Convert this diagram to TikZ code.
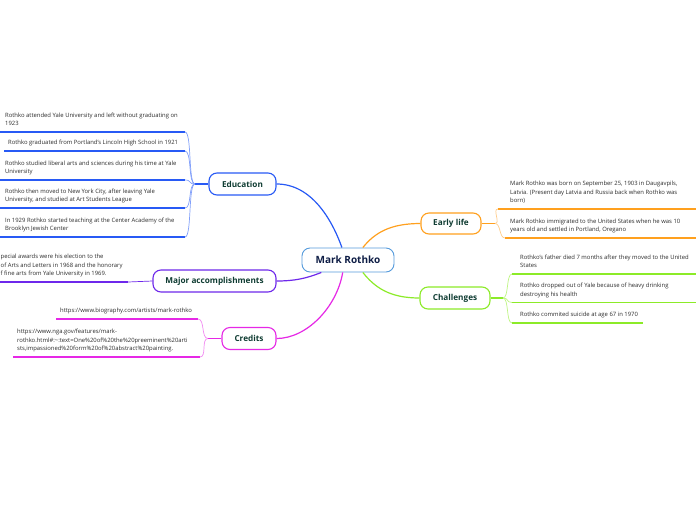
\documentclass[tikz,border=0pt]{standalone}
\usepackage{fontspec}
\setmainfont{Open Sans}
\definecolor{edu}{RGB}{40,90,245}
\definecolor{edulight}{RGB}{130,160,250}
\definecolor{purp}{RGB}{110,40,235}
\definecolor{mag}{RGB}{230,40,230}
\definecolor{maglight}{RGB}{242,140,242}
\definecolor{orng}{RGB}{255,160,30}
\definecolor{orlight}{RGB}{255,205,140}
\definecolor{lime}{RGB}{140,235,40}
\definecolor{limelight}{RGB}{190,245,130}
\definecolor{central}{RGB}{85,155,220}
\definecolor{titletxt}{RGB}{15,60,50}
\definecolor{centraltxt}{RGB}{15,30,70}
\definecolor{leaftxt}{RGB}{45,45,45}
\tikzset{
  topic/.style={draw, line width=1.1pt, rounded corners=8pt, fill=white,
    font=\fontsize{8.2}{9.5}\selectfont\bfseries, text=titletxt,
    minimum height=22pt, inner sep=0pt},
  leaf/.style={anchor=south west, inner sep=0pt, align=left,
    font=\fontsize{5.9}{8.6}\selectfont, text=leaftxt},
  under/.style={line width=1.6pt},
  sub/.style={line width=0.7pt},
  mainc/.style={line width=1.2pt},
}
\begin{document}
\begin{tikzpicture}[x=1pt,y=-1pt]
\fill[white] (0,0) rectangle (696,520);
\useasboundingbox (0,0) rectangle (696,520);

% topics
\node[topic, draw=central, line width=0.9pt, minimum width=92pt, minimum height=24pt,
  font=\fontsize{10}{12}\selectfont\bfseries, text=centraltxt] (mark) at (348,260) {Mark Rothko};
\node[topic, draw=edu, minimum width=67pt] (edu) at (242.5,184) {Education};
\node[topic, draw=purp, minimum width=123pt] (major) at (214.5,281) {Major accomplishments};
\node[topic, draw=mag, minimum width=54pt] (cred) at (249,338.5) {Credits};
\node[topic, draw=orng, minimum width=60pt, minimum height=21pt] (early) at (451,223.5) {Early life};
\node[topic, draw=lime, minimum width=70pt] (chal) at (455,298) {Challenges};

% central connectors
\draw[mainc, edu] (mark.116) .. controls +(-10,-28) and +(35,0) .. (edu.east);
\draw[mainc, orng] (mark.40) .. controls +(12,-15) and +(-30,0) .. (early.west);
\draw[mainc, lime] (mark.-40) .. controls +(12,15) and +(-30,0) .. (chal.west);
\draw[mainc, purp] (mark.205) .. controls +(-15,6) and +(18,0) .. (major.east);
\draw[mainc, mag] (mark.247) .. controls +(-6,35) and +(30,0) .. (cred.east);

% Education
\coordinate (eb) at (195,184);
\draw[mainc, edu] (edu.west) -- (eb);
\coordinate (e1a) at (0,132);   \coordinate (e1b) at (185,132);
\coordinate (e2a) at (4,151);   \coordinate (e2b) at (185,151);
\coordinate (e3a) at (0,180);   \coordinate (e3b) at (185,180);
\coordinate (e4a) at (0,208);   \coordinate (e4b) at (185,208);
\coordinate (e5a) at (0,237);   \coordinate (e5b) at (185,237);
\foreach \i in {1,...,5}{
  \draw[under, edu] (e\i a) -- (e\i b);
  \draw[sub, edulight] (eb) .. controls +(-7,0) and +(7,0) .. (e\i b);
}
\node[leaf] (e1t) at (5,128.5) {Rothko attended Yale University and left without graduating on\\1923\strut};
\node[leaf] (e2t) at (8,147.5) {Rothko graduated from Portland's Lincoln High School in 1921\strut};
\node[leaf] (e3t) at (5,176.5) {Rothko studied liberal arts and sciences during his time at Yale\\University\strut};
\node[leaf] (e4t) at (5,204.5) {Rothko then moved to New York City, after leaving Yale\\University, and studied at Art Students League\strut};
\node[leaf] (e5t) at (5,233.5) {In 1929 Rothko started teaching at the Center Academy of the\\Brooklyn Jewish Center\strut};

% Major accomplishments
\coordinate (ma) at (0,282); \coordinate (mb) at (128,282);
\draw[under, purp] (ma) -- (mb);
\draw[sub, purp] (mb) -- (major.west);
\node[leaf] (m1t) at (0.5,278.5) {pecial awards were his election to the\\of Arts and Letters in 1968 and the honorary\\f fine arts from Yale University in 1969.\strut};

% Credits
\coordinate (cb) at (208,338.5);
\draw[mainc, mag] (cred.west) -- (cb);
\coordinate (c1a) at (56,319);  \coordinate (c1b) at (198,319);
\coordinate (c2a) at (13,357);  \coordinate (c2b) at (200,357);
\foreach \i in {1,2}{
  \draw[under, mag] (c\i a) -- (c\i b);
  \draw[sub, maglight] (cb) .. controls +(-7,0) and +(7,0) .. (c\i b);
}
\node[leaf] (c1t) at (60,315.5) {https://www.biography.com/artists/mark-rothko\strut};
\node[leaf] (c2t) at (17,353.5) {https://www.nga.gov/features/mark-\\rothko.html\#:\textasciitilde:text=One\%20of\%20the\%20preeminent\%20arti\\sts,impassioned\%20form\%20of\%20abstract\%20painting.\strut};

% Early life
\coordinate (lb) at (495,223.5);
\draw[mainc, orng] (early.east) -- (lb);
\coordinate (l1a) at (498,209); \coordinate (l1b) at (696,209);
\coordinate (l2a) at (505,238); \coordinate (l2b) at (696,238);
\foreach \i in {1,2}{
  \draw[under, orng] (l\i a) -- (l\i b);
  \draw[sub, orlight] (lb) .. controls +(6,0) and +(-6,0) .. (l\i a);
}
\node[leaf] (l1t) at (510,205.5) {Mark Rothko was born on September 25, 1903 in Daugavpils,\\Latvia. (Present day Latvia and Russia back when Rothko was\\born)\strut};
\node[leaf] (l2t) at (510,234.5) {Mark Rothko immigrated to the United States when he was 10\\years old and settled in Portland, Oregano\strut};

% Challenges
\coordinate (hb) at (503,298);
\draw[mainc, lime] (chal.east) -- (hb);
\coordinate (h1a) at (512,274);   \coordinate (h1b) at (696,274);
\coordinate (h2a) at (512,302.5); \coordinate (h2b) at (696,302.5);
\coordinate (h3a) at (512,323);   \coordinate (h3b) at (643,323);
\foreach \i in {1,2,3}{
  \draw[under, lime] (h\i a) -- (h\i b);
  \draw[sub, limelight] (hb) .. controls +(6,0) and +(-6,0) .. (h\i a);
}
\node[leaf] (h1t) at (520,270.5) {Rothko's father died 7 months after they moved to the United\\States\strut};
\node[leaf] (h2t) at (520,299) {Rothko dropped out of Yale because of heavy drinking\\destroying his health\strut};
\node[leaf] (h3t) at (520,319.5) {Rothko commited suicide at age 67 in 1970\strut};
\end{tikzpicture}
\end{document}
